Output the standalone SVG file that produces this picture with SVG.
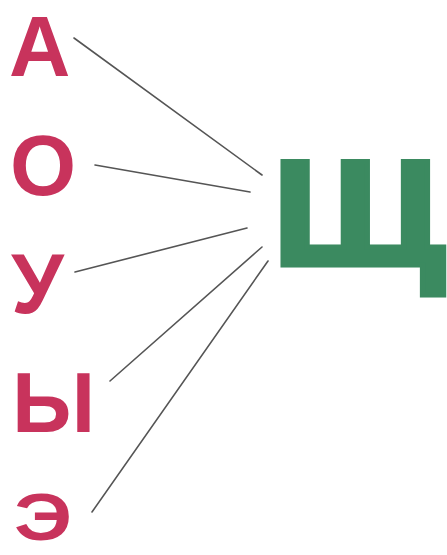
<svg xmlns="http://www.w3.org/2000/svg" width="447" height="555" viewBox="0 0 447 555">
<style>
.v{font-family:"Liberation Sans",Arial,sans-serif;font-weight:bold;font-size:85px;fill:#c8335c}
.c{font-family:"Liberation Sans",Arial,sans-serif;font-weight:bold;font-size:150px;fill:#3b8a60;stroke:#3b8a60;stroke-width:5;stroke-linejoin:miter}
.ln{stroke:#555;stroke-width:1.6;fill:none;stroke-linecap:round}
</style>
<rect width="447" height="555" fill="#ffffff"/>
<g id="connectors">
<line class="ln" x1="74" y1="38" x2="262" y2="175"/>
<line class="ln" x1="95" y1="165" x2="250" y2="192"/>
<line class="ln" x1="75" y1="272" x2="247" y2="228"/>
<line class="ln" x1="110" y1="381" x2="262" y2="247"/>
<line class="ln" x1="92" y1="512" x2="268" y2="261"/>
</g>
<g id="node-a"><text class="v" x="9" y="76">А</text></g>
<g id="node-o"><text class="v" x="10" y="195">О</text></g>
<g id="node-u"><text class="v" x="11" y="313">У</text></g>
<g id="node-y"><text class="v" x="12" y="432">Ы</text></g>
<g id="node-e"><text class="v" transform="translate(14,540) scale(1.22,1)" x="0" y="0" style="font-size:67px">Э</text></g>
<g id="node-shch"><text class="c" transform="translate(272,265) scale(1.13,1)" x="0" y="0">Щ</text></g>
</svg>
